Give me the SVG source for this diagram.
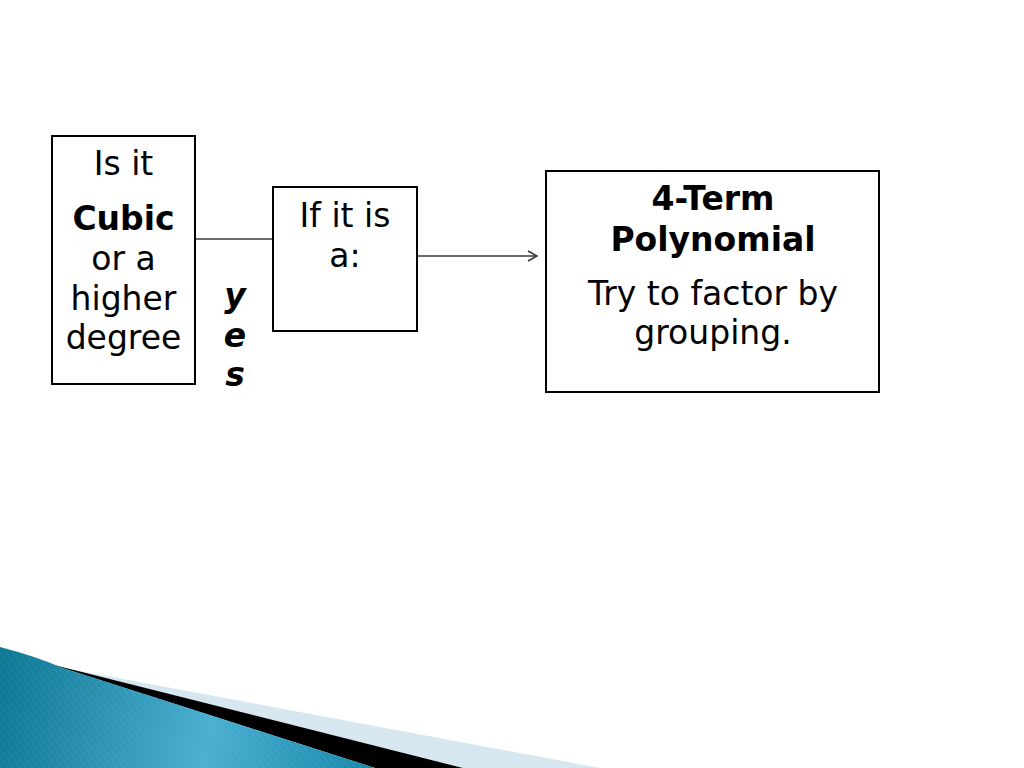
<svg xmlns="http://www.w3.org/2000/svg" width="1024" height="768" viewBox="0 0 1024 768">
  <style>
    .box { fill: #ffffff; stroke: #000000; stroke-width: 2; }
    .t { font-family: "DejaVu Sans", Verdana, sans-serif; font-size: 33px; fill: #000000; text-anchor: middle; }
    .b { font-weight: bold; }
    .conn { stroke: #3a3a3a; stroke-width: 1.5; fill: none; }
  </style>
  <defs>
    <marker id="arrow" markerWidth="12" markerHeight="12" refX="10" refY="6" orient="auto" markerUnits="userSpaceOnUse">
      <path d="M1,1 L10,6 L1,11" fill="none" stroke="#3a3a3a" stroke-width="1.5"/>
    </marker>
    <linearGradient id="teal" gradientUnits="userSpaceOnUse" x1="0" y1="700" x2="380" y2="768">
      <stop offset="0" stop-color="#0f7896"/>
      <stop offset="0.55" stop-color="#4aafd1"/>
      <stop offset="1" stop-color="#1586a8"/>
    </linearGradient>
    <pattern id="stripes" patternUnits="userSpaceOnUse" width="5" height="5" patternTransform="rotate(-35)">
      <rect width="2" height="5" fill="#ffffff" fill-opacity="0.035"/>
    </pattern>
  </defs>
  <rect width="1024" height="768" fill="#ffffff"/>

  <g id="decoration">
    <path d="M80,671 L600,768 L463,768 L63,668 Z" fill="#d7e7f0"/>
    <path d="M50,664 L463,768 L375,768 Z" fill="#000000"/>
    <path d="M0,647 Q35,656 63,668 L375,768 L0,768 Z" fill="url(#teal)"/>
    <path d="M0,647 Q35,656 63,668 L375,768 L0,768 Z" fill="url(#stripes)"/>
  </g>

  <g id="connectors">
    <line class="conn" x1="196" y1="239" x2="273" y2="239"/>
    <line class="conn" x1="418" y1="256" x2="537" y2="256" marker-end="url(#arrow)"/>
  </g>

  <g id="node-cubic">
    <rect class="box" x="52" y="136" width="143" height="248"/>
    <text class="t" x="123.5" y="175">Is it</text>
    <text class="t b" x="123.5" y="230">Cubic</text>
    <text class="t" x="123.5" y="270">or a</text>
    <text class="t" x="123.5" y="310">higher</text>
    <text class="t" x="123.5" y="349">degree</text>
  </g>

  <g id="label-yes">
    <text class="t b" font-style="italic" x="235" y="307">y</text>
    <text class="t b" font-style="italic" x="235" y="347">e</text>
    <text class="t b" font-style="italic" x="235" y="386">s</text>
  </g>

  <g id="node-ifitis">
    <rect class="box" x="273" y="187" width="144" height="144"/>
    <text class="t" x="345" y="227">If it is</text>
    <text class="t" x="345" y="267">a:</text>
  </g>

  <g id="node-4term">
    <rect class="box" x="546" y="171" width="333" height="221"/>
    <text class="t b" x="713" y="210">4-Term</text>
    <text class="t b" x="713" y="251">Polynomial</text>
    <text class="t" x="713" y="305">Try to factor by</text>
    <text class="t" x="713" y="344">grouping.</text>
  </g>
</svg>
